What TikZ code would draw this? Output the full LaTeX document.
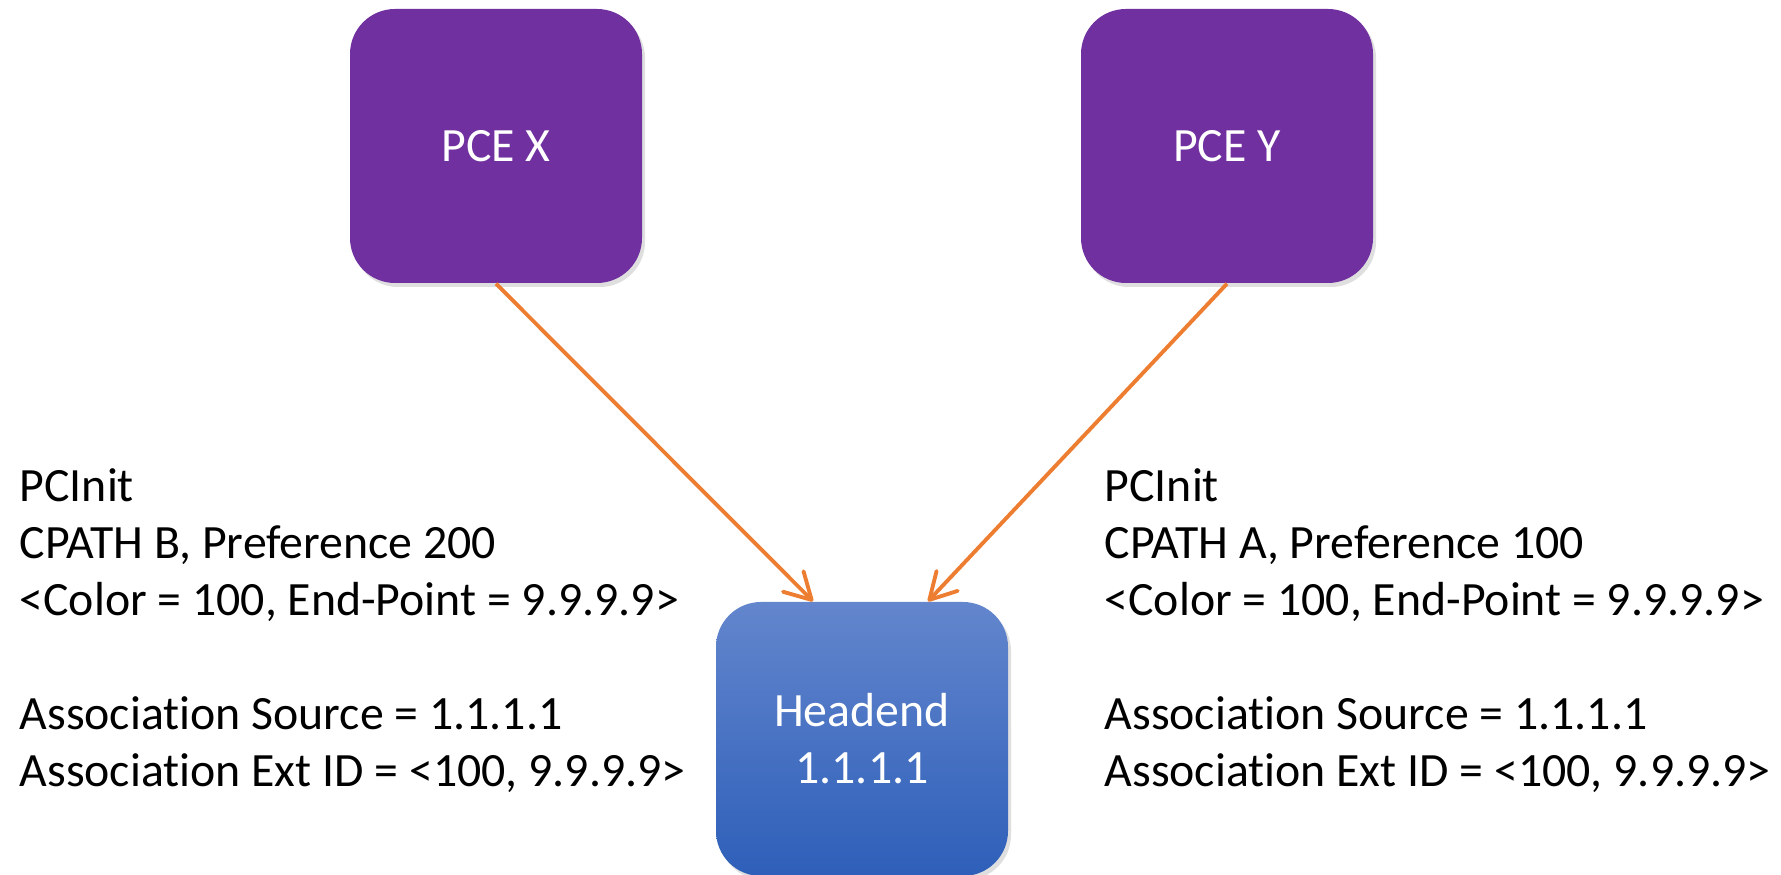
\documentclass[tikz,border=0pt]{standalone}
\usepackage{fontspec}
\setmainfont{Carlito}[Ligatures=NoCommon]
\usetikzlibrary{positioning,arrows.meta,shadows}
\definecolor{pcepurple}{HTML}{7030A0}
\definecolor{hdtop}{HTML}{6386CD}
\definecolor{hdbottom}{HTML}{2E5FB9}
\definecolor{linkorange}{HTML}{ED7D31}
\begin{document}
\begin{tikzpicture}[
    box/.style={rounded corners=4.5mm, minimum width=2.92cm, minimum height=2.74cm,
        text=white, align=center, font=\fontsize{13.6}{16.2}\selectfont,
        drop shadow={shadow xshift=0.3mm, shadow yshift=-0.4mm, opacity=0.25}},
    pce/.style={box, fill=pcepurple},
    info/.style={align=left, inner sep=0pt, anchor=north west,
        font=\fontsize{13.6}{16.2}\selectfont},
    link/.style={linkorange, line width=1.1pt, -{Straight Barb[round,length=2.6mm,width=2.9mm]}}]
    \useasboundingbox (0,0) rectangle (17.81,8.75);

    \node (pcex) [pce] at (4.96,7.29) {PCE X};
    \node (pcey) [pce] at (12.27,7.29) {PCE Y};
    \node (hd) [box, top color=hdtop, bottom color=hdbottom] at (8.62,1.36) {Headend\\1.1.1.1};

    \node (infox) [info] at (0.19,4.07) {PCInit\\CPATH B, Preference 200\\<Color = 100, End-Point = 9.9.9.9>\\[16.2pt]Association Source = 1.1.1.1\\Association Ext ID = <100, 9.9.9.9>};
    \node (infoy) [info] at (11.04,4.07) {PCInit\\CPATH A, Preference 100\\<Color = 100, End-Point = 9.9.9.9>\\[16.2pt]Association Source = 1.1.1.1\\Association Ext ID = <100, 9.9.9.9>};

    \coordinate (hdx) at ([xshift=-4.9mm]hd.north);
    \coordinate (hdy) at ([xshift=6.6mm]hd.north);

    \path
    (pcex.south) edge[link] (hdx)
    (pcey.south) edge[link] (hdy);
\end{tikzpicture}
\end{document}
